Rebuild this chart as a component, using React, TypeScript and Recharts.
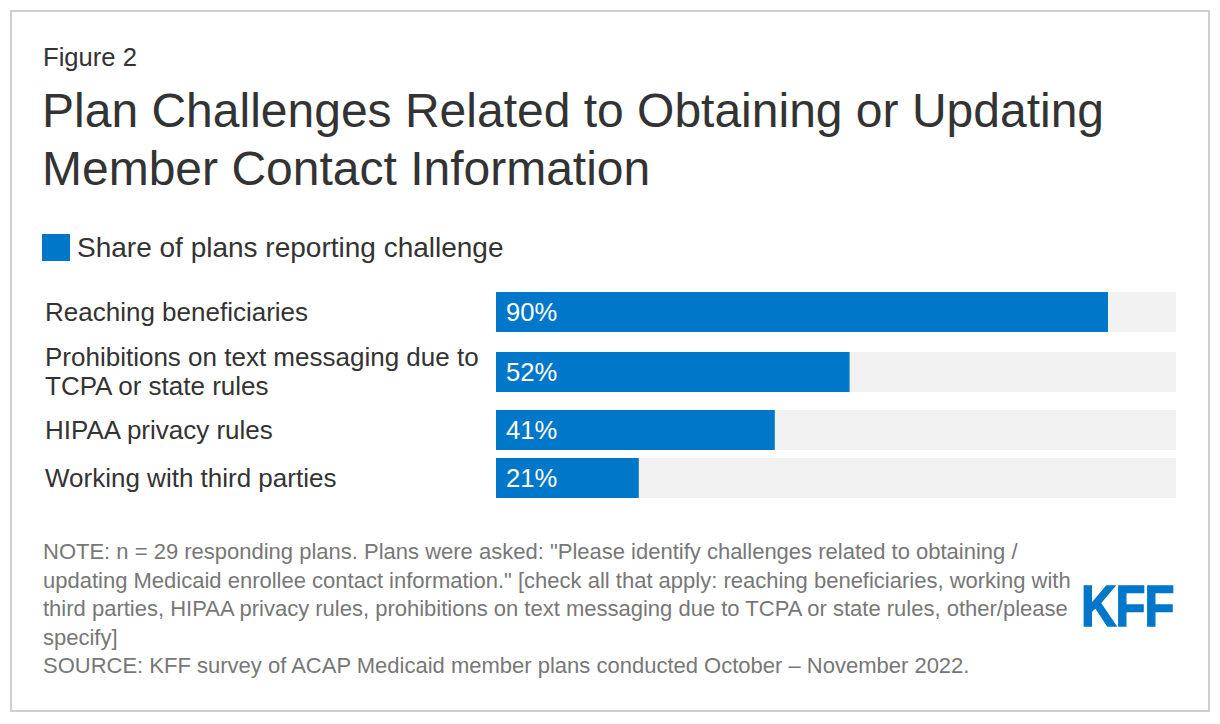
import { BarChart, Bar, XAxis, YAxis, LabelList } from "recharts";

const categories = [
  "Reaching beneficiaries",
  "Prohibitions on text messaging due to\nTCPA or state rules",
  "HIPAA privacy rules",
  "Working with third parties",
];
const shareValues = [90, 52, 41, 21];
const seriesName = "Share of plans reporting challenge";

const noteLines = [
  'NOTE: n = 29 responding plans. Plans were asked: "Please identify challenges related to obtaining /',
  'updating Medicaid enrollee contact information." [check all that apply: reaching beneficiaries, working with',
  "third parties, HIPAA privacy rules, prohibitions on text messaging due to TCPA or state rules, other/please",
  "specify]",
  "SOURCE: KFF survey of ACAP Medicaid member plans conducted October \u2013 November 2022.",
];

const FONT = '"Liberation Sans", Arial, sans-serif';
const BLUE = "#0077c8";
// gaps under each row (the two-line label needs more room)
const rowGaps = [20, 18, 8, 0];

function BarRow({ name, value }: { name: string; value: number }) {
  const data = [{ name, value }];
  return (
    <BarChart
      width={680}
      height={40}
      data={data}
      layout="vertical"
      margin={{ top: 0, right: 0, bottom: 0, left: 0 }}
      barCategoryGap={0}
    >
      <XAxis type="number" domain={[0, 100]} hide />
      <YAxis type="category" dataKey="name" hide />
      <Bar
        dataKey="value"
        fill={BLUE}
        background={{ fill: "#f2f2f2" }}
        isAnimationActive={false}
      >
        <LabelList
          dataKey="value"
          position="insideLeft"
          offset={10}
          formatter={(v: any) => `${v}%`}
          style={{ fill: "#ffffff", fontSize: 25.6, fontFamily: FONT }}
        />
      </Bar>
    </BarChart>
  );
}

export default function App() {
  return (
    <div
      style={{
        position: "fixed",
        left: 0,
        top: 0,
        width: 1220,
        height: 724,
        background: "#fff",
        fontFamily: FONT,
        color: "#333",
      }}
    >
      <div
        style={{
          position: "absolute",
          left: 10,
          top: 10,
          width: 1200,
          height: 702,
          boxSizing: "border-box",
          border: "2px solid #cfcfcf",
        }}
      />
      <div style={{ position: "absolute", left: 43, top: 42, fontSize: 25.6, lineHeight: "30px" }}>
        Figure 2
      </div>
      <div style={{ position: "absolute", left: 42, top: 82, fontSize: 48, lineHeight: "58px", width: 1140 }}>
        Plan Challenges Related to Obtaining or Updating
        <br />
        Member Contact Information
      </div>

      <div style={{ position: "absolute", left: 42, top: 234, display: "flex", alignItems: "center", height: 27 }}>
        <div style={{ width: 28, height: 27, background: BLUE, marginRight: 7 }} />
        <span style={{ fontSize: 28, lineHeight: "27px" }}>{seriesName}</span>
      </div>

      <div style={{ position: "absolute", left: 0, top: 292, width: 1220 }}>
        {categories.map((c, i) => (
          <div
            key={c}
            style={{ display: "flex", alignItems: "center", height: 40, marginBottom: rowGaps[i] }}
          >
            <div
              style={{
                marginLeft: 45,
                width: 451,
                fontSize: 26,
                lineHeight: "29px",
                whiteSpace: "pre-line",
              }}
            >
              {c}
            </div>
            <BarRow name={c} value={shareValues[i]} />
          </div>
        ))}
      </div>

      <div
        style={{
          position: "absolute",
          left: 43,
          top: 538,
          fontSize: 22,
          lineHeight: "28.5px",
          color: "#777",
          whiteSpace: "nowrap",
        }}
      >
        {noteLines.map((l) => (
          <div key={l}>{l}</div>
        ))}
      </div>

      <div
        style={{
          position: "absolute",
          left: 1081,
          top: 578,
          fontSize: 57,
          lineHeight: "57px",
          fontWeight: "bold",
          color: BLUE,
          WebkitTextStroke: `1.5px ${BLUE}`,
          letterSpacing: -1,
          transform: "scaleX(0.86)",
          transformOrigin: "left center",
          whiteSpace: "nowrap",
        }}
      >
        KFF
      </div>
    </div>
  );
}
